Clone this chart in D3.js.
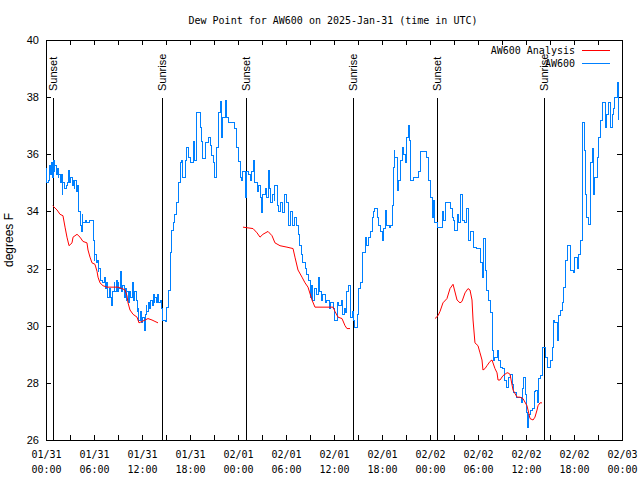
<!DOCTYPE html>
<html>
<head>
<meta charset="utf-8">
<script src="https://cdn.jsdelivr.net/npm/d3@7"></script>
<style>
  html, body { margin: 0; padding: 0; background: #fff; }
  svg { display: block; }
</style>
</head>
<body>
<svg id="chart" width="640" height="480"></svg>
<script>
// ---- Data (hours since 2025-01-31 00:00 UTC) ----
const titleText = "Dew Point for AW600 on 2025-Jan-31 (time in UTC)";
const yLabelText = "degrees F";
const seriesNames = ["AW600 Analysis", "AW600"];

const obsHours = [0,0.12,0.25,0.44,0.56,0.69,0.81,0.88,1.0,1.12,1.25,1.38,1.5,1.62,1.75,1.88,2.0,2.12,2.25,2.5,2.69,2.81,2.94,3.12,3.25,3.38,3.5,3.62,3.75,3.88,4.0,4.12,4.25,4.38,4.5,4.62,4.88,5.12,5.38,5.62,5.88,6.0,6.12,6.25,6.38,6.5,6.62,6.75,7.0,7.25,7.38,7.5,7.69,7.88,8.0,8.19,8.31,8.5,8.62,8.75,8.88,9.0,9.12,9.31,9.44,9.62,9.75,9.88,10.0,10.12,10.25,10.44,10.62,10.75,10.88,11.0,11.25,11.38,11.5,11.62,11.75,11.88,12.0,12.25,12.38,12.5,12.62,12.75,12.94,13.12,13.25,13.38,13.5,13.62,13.75,13.94,14.06,14.25,14.38,14.5,14.62,14.88,15.06,15.25,15.5,15.69,15.88,16.12,16.31,16.5,16.75,16.94,17.12,17.38,17.56,17.75,18.0,18.19,18.38,18.62,18.81,19.0,19.25,19.44,19.62,19.88,20.06,20.25,20.5,20.69,20.88,21.12,21.31,21.5,21.75,21.94,22.12,22.38,22.56,22.75,23.12,23.38,23.62,23.81,24.0,24.25,24.44,24.62,24.88,25.0,25.25,25.5,25.69,25.88,26.12,26.38,26.62,26.75,26.94,27.12,27.38,27.56,27.75,27.94,28.12,28.31,28.5,28.62,28.88,29.12,29.31,29.5,29.75,30.0,30.25,30.5,30.75,31.0,31.25,31.5,31.69,31.88,32.12,32.38,32.62,32.81,33.0,33.19,33.31,33.5,33.75,34.0,34.19,34.38,34.62,34.88,35.12,35.38,35.62,35.88,36.12,36.38,36.62,36.88,37.06,37.25,37.38,37.62,37.81,38.0,38.25,38.38,38.62,38.88,39.0,39.25,39.5,39.62,39.88,40.12,40.31,40.5,40.75,40.94,41.12,41.38,41.56,41.75,42.0,42.19,42.38,42.62,42.88,43.12,43.25,43.38,43.5,43.62,43.88,44.06,44.25,44.5,44.69,44.88,45.12,45.25,45.38,45.5,45.88,46.25,46.5,46.75,47.12,47.38,47.62,47.75,48.0,48.25,48.38,48.62,48.88,49.25,49.5,49.69,49.88,50.25,50.5,50.75,50.94,51.12,51.38,51.56,51.75,52.0,52.25,52.62,52.75,53.0,53.25,53.44,53.75,54.0,54.25,54.5,54.69,54.88,55.12,55.31,55.5,55.75,55.94,56.12,56.38,56.56,56.75,57.0,57.25,57.62,57.81,58.0,58.25,58.44,58.75,59.12,59.38,59.5,59.69,59.88,60.06,60.19,60.31,60.5,60.81,61.0,61.19,61.38,61.56,61.75,62.0,62.12,62.38,62.69,63.0,63.25,63.38,63.62,63.88,64.06,64.25,64.5,64.69,64.88,65.19,65.5,65.88,66.12,66.38,66.56,66.75,67.0,67.12,67.25,67.38,67.62,67.81,68.0,68.12,68.25,68.38,68.62,68.88,69.06,69.25,69.56,69.88,70.12,70.31,70.5,70.75,70.94,71.12,71.38,71.5,71.62];
const obsDew = [35.5,35.0,35.1,35.6,35.3,35.7,35.2,35.8,35.4,35.6,35.3,35.5,35.2,35.3,35.0,35.3,34.6,35.0,34.8,34.9,35.0,35.45,35.0,35.2,34.9,35.1,34.8,35.1,34.7,34.9,34.5,34.0,33.5,33.3,33.9,33.6,33.7,33.6,33.7,33.7,33.0,32.3,32.5,32.2,32.3,31.9,32.0,31.6,31.5,31.7,31.3,31.5,31.0,31.3,31.0,30.7,31.2,31.5,31.2,31.6,31.2,31.5,31.3,31.9,31.2,31.4,31.0,31.3,30.9,31.2,30.8,31.2,31.0,31.5,30.9,31.2,30.9,30.5,30.6,30.2,30.5,30.1,30.3,29.85,30.4,30.7,30.5,30.8,30.6,30.9,30.7,31.1,30.8,31.0,30.8,31.1,30.8,30.9,30.6,30.3,30.2,30.15,30.65,31.25,32.55,33.35,33.6,33.9,34.3,35.0,35.7,35.8,35.2,35.8,36.25,35.9,35.7,35.7,36.45,35.8,37.45,37.45,36.95,36.45,35.85,36.4,36.4,36.6,36.3,35.95,35.7,35.2,36.25,37.45,37.85,36.6,37.3,37.9,37.3,37.1,37.1,37.1,36.9,36.25,35.75,35.2,35.1,35.4,34.5,35.4,35.3,35.1,35.4,35.8,35.0,34.7,34.9,34.5,33.95,34.6,34.8,34.5,35.45,34.8,34.3,34.6,34.4,34.9,34.2,34.0,34.3,33.95,34.6,34.3,33.5,34.0,33.5,33.8,33.5,33.2,32.8,32.5,32.2,32.0,31.8,31.6,31.0,31.4,30.9,31.3,31.1,31.7,31.2,30.9,31.1,30.8,30.9,30.6,30.8,30.6,30.2,30.8,30.7,30.9,30.4,30.6,30.45,31.2,31.4,30.3,30.5,30.2,29.95,30.4,31.3,31.5,31.75,32.55,33.1,32.8,33.1,33.3,33.8,34.0,34.1,33.8,33.5,33.3,33.0,33.4,34.05,33.5,33.45,33.5,34.2,35.55,36.15,35.9,34.75,35.1,35.8,36.25,36.0,35.7,36.6,37.0,36.5,35.1,35.2,35.2,35.4,36.1,36.1,36.1,35.9,35.1,34.5,33.8,34.4,33.6,33.45,33.45,34.0,33.7,34.3,34.3,34.1,33.8,33.7,33.35,33.9,33.6,34.6,33.7,33.6,34.1,33.0,33.3,33.3,32.75,32.7,32.7,32.2,31.7,33.05,31.95,31.25,30.9,30.45,29.15,28.8,28.9,29.15,28.8,28.55,28.5,28.1,27.85,28.2,28.3,27.95,27.65,27.5,27.5,27.3,27.8,28.2,27.6,26.95,26.45,26.9,27.05,27.1,27.7,27.75,27.3,28.15,28.25,28.7,29.25,28.9,28.55,28.8,29.25,30.2,30.1,29.5,30.35,30.55,30.8,31.35,32.3,32.8,31.95,31.85,32.4,32.0,32.5,33.0,34.15,37.1,36.15,34.6,33.8,33.55,34.2,35.7,36.2,34.6,35.2,35.9,36.6,37.2,37.8,36.95,37.4,37.8,36.95,37.4,37.6,38.0,38.5,38.2,37.2];

const anaHours = [0.84,1.38,1.75,2.12,2.38,2.62,2.88,3.25,3.38,3.88,4.25,4.62,5.12,5.25,5.5,5.75,6.12,6.38,6.5,6.75,7.12,7.62,9.0,9.5,9.88,10.12,10.25,10.5,10.88,11.38,11.62,12.0,12.38,12.75,13.25,13.62,14.0,
  14.2,
  24.62,25.88,26.38,26.75,27.12,27.75,28.25,28.62,29.25,30.12,30.88,31.12,31.5,32.0,32.38,32.75,33.25,33.62,35.25,35.88,36.12,36.5,37.0,37.38,37.62,38.0,
  38.2,
  48.62,49.0,49.25,49.62,50.12,50.5,50.88,51.38,51.75,52.0,52.38,52.75,53.0,53.25,53.38,53.62,54.0,54.25,54.5,54.62,54.88,55.12,55.5,55.75,56.12,56.38,56.5,56.75,57.12,57.62,57.75,58.0,58.38,58.88,59.25,59.62,60.12,60.25,60.5,60.88,61.12,61.38,61.5,61.75,62.0];
const anaDew = [34.2,34.05,33.9,33.85,33.45,33.1,32.8,32.9,33.1,33.2,33.1,32.95,32.9,32.65,32.4,32.2,32.15,31.9,31.7,31.5,31.4,31.35,31.35,31.3,31.25,31.05,30.8,30.55,30.4,30.3,30.1,30.15,30.2,30.25,30.2,30.15,30.1,
  null,
  33.45,33.4,33.25,33.1,33.2,33.3,33.15,32.9,32.8,32.75,32.7,32.4,31.95,31.7,31.5,31.35,30.9,30.65,30.65,30.65,30.5,30.3,30.25,30.0,29.9,29.9,
  null,
  30.25,30.35,30.5,30.8,30.95,31.3,31.45,30.9,30.8,30.85,31.15,31.3,31.25,30.9,30.2,29.4,29.3,29.05,28.8,28.45,28.5,28.6,28.75,28.8,28.5,28.35,28.1,28.1,28.25,28.35,28.35,28.3,27.75,27.5,27.5,27.45,27.2,27.05,26.75,26.7,26.8,27.05,27.2,27.3,27.3];

const sunHours = [0.92, 14.45, 24.95, 38.4, 48.9, 62.3];
const sunLabels = ["Sunset", "Sunrise", "Sunset", "Sunrise", "Sunset", "Sunrise"];

const xTickHours = [0,6,12,18,24,30,36,42,48,54,60,66,72];
const xTickDates = ["01/31","01/31","01/31","01/31","02/01","02/01","02/01","02/01","02/02","02/02","02/02","02/02","02/03"];
const xTickTimes = ["00:00","06:00","12:00","18:00","00:00","06:00","12:00","18:00","00:00","06:00","12:00","18:00","00:00"];
const yTicks = [26,28,30,32,34,36,38,40];

// ---- Layout ----
const L = 46, R = 622, T = 40, B = 440;
const svg = d3.select("#chart");
const x = d3.scaleLinear().domain([0, 72]).range([L, R]);
const y = d3.scaleLinear().domain([26, 40]).range([B, T]);
const mono = "'DejaVu Sans Mono', monospace";
const sans = "'Liberation Sans', Arial, sans-serif";
const blue = "#0080ff", red = "#ff0000";

// title
svg.append("text").attr("x", 333).attr("y", 24).attr("text-anchor", "middle")
  .style("font-family", mono).style("font-size", "10px").text(titleText);

// y label
svg.append("text").attr("transform", "translate(13,240) rotate(-90)")
  .attr("text-anchor", "middle").style("font-family", sans).style("font-size", "12px").text(yLabelText);

// axes (ticks inward on all four sides)
const minorTicks = d3.range(0, 73, 3);
const styleAxis = g => {
  g.select(".domain").remove();
  g.selectAll("line").attr("stroke", "#000").attr("shape-rendering", "crispEdges");
};
svg.append("g").attr("transform", `translate(0,${B})`)
  .call(d3.axisBottom(x).tickValues(minorTicks).tickSizeInner(-5).tickSizeOuter(0).tickFormat(""))
  .call(styleAxis);
svg.append("g").attr("transform", `translate(0,${T})`)
  .call(d3.axisTop(x).tickValues(minorTicks).tickSizeInner(-5).tickSizeOuter(0).tickFormat(""))
  .call(styleAxis);
const yl = svg.append("g").attr("transform", `translate(${L},0)`)
  .call(d3.axisLeft(y).tickValues(yTicks).tickSizeInner(-5).tickSizeOuter(0).tickPadding(7).tickFormat(d3.format("d")))
  .call(styleAxis);
yl.selectAll("text").style("font-family", sans).style("font-size", "11px").attr("fill", "#000");
svg.append("g").attr("transform", `translate(${R},0)`)
  .call(d3.axisRight(y).tickValues(yTicks).tickSizeInner(-5).tickSizeOuter(0).tickFormat(""))
  .call(styleAxis);

// x tick labels (two lines)
const xl = svg.append("g").attr("transform", `translate(0,${B})`)
  .call(d3.axisBottom(x).tickValues(xTickHours).tickSize(0).tickPadding(0).tickFormat(""));
xl.select(".domain").remove();
xl.selectAll(".tick").each(function(d, i) {
  const t = d3.select(this).append("text").attr("text-anchor", "middle").attr("fill", "#000")
    .style("font-family", mono).style("font-size", "10px");
  t.append("tspan").attr("x", 0).attr("y", 18).text(xTickDates[i]);
  t.append("tspan").attr("x", 0).attr("y", 33).text(xTickTimes[i]);
});

// frame
svg.append("rect").attr("x", L + 0.5).attr("y", T + 0.5).attr("width", R - L).attr("height", B - T)
  .attr("fill", "none").attr("stroke", "#000").attr("shape-rendering", "crispEdges");

// sunrise/sunset markers
const sun = svg.append("g");
sun.selectAll("line").data(sunHours).join("line")
  .attr("x1", d => Math.round(x(d)) + 0.5).attr("x2", d => Math.round(x(d)) + 0.5)
  .attr("y1", 98).attr("y2", B).attr("stroke", "#000").attr("shape-rendering", "crispEdges");
sun.selectAll("text").data(sunHours).join("text")
  .attr("transform", d => `translate(${Math.round(x(d)) + 0.5},91) rotate(-90)`)
  .attr("dy", "0.35em").style("font-family", sans).style("font-size", "11px")
  .text((d, i) => sunLabels[i]);

// series
const obs = obsHours.map((h, i) => [h, obsDew[i]]);
const ana = anaHours.map((h, i) => [h, anaDew[i]]);
const lineObs = d3.line().x(d => x(d[0])).y(d => y(d[1])).curve(d3.curveStepAfter);
const lineAna = d3.line().defined(d => d[1] != null).x(d => x(d[0])).y(d => y(d[1]));
svg.append("path").datum(obs).attr("d", lineObs).attr("fill", "none").attr("stroke", blue)
  .attr("stroke-width", 1).attr("shape-rendering", "crispEdges");
svg.append("path").datum(ana).attr("d", lineAna).attr("fill", "none").attr("stroke", red).attr("stroke-width", 1);

// legend
const leg = svg.append("g");
const legRows = [{name: seriesNames[0], color: red, yy: 50}, {name: seriesNames[1], color: blue, yy: 63}];
legRows.forEach(r => {
  leg.append("text").attr("x", 575).attr("y", r.yy).attr("dy", "0.35em").attr("text-anchor", "end")
    .style("font-family", mono).style("font-size", "10px").text(r.name);
  leg.append("line").attr("x1", 582).attr("x2", 610).attr("y1", r.yy + 0.5).attr("y2", r.yy + 0.5)
    .attr("stroke", r.color).attr("shape-rendering", "crispEdges");
});
</script>
</body>
</html>
